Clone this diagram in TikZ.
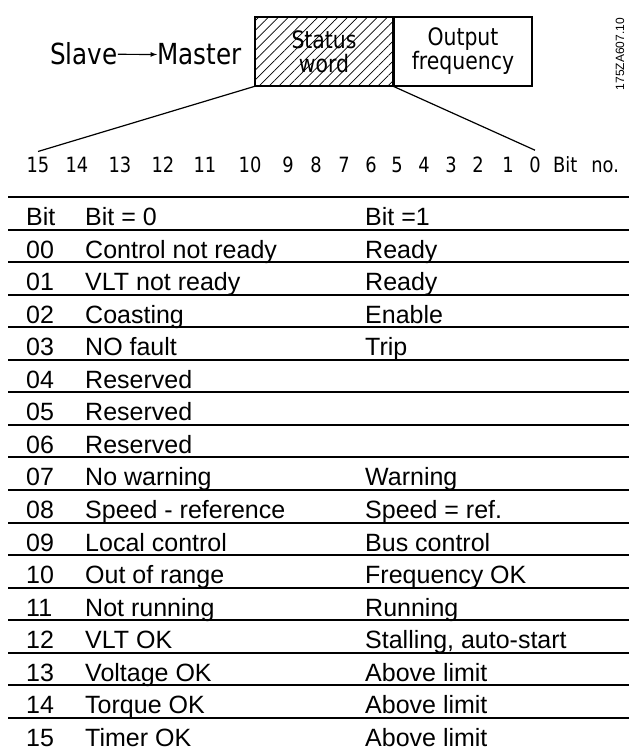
\documentclass[tikz,border=0pt]{standalone}
\usepackage{fontspec}
\setmainfont{Liberation Sans}
\newfontfamily\drawfont[FakeStretch=0.85]{DejaVu Sans}
\usetikzlibrary{arrows,patterns.meta}
\tikzstyle{field} = [draw, line width=1.2pt, minimum width=138pt, minimum height=69pt, inner sep=0pt, align=center, font=\drawfont\fontsize{24}{24}\selectfont]
\tikzstyle{word} = [anchor=base west, inner sep=0pt, font=\drawfont\fontsize{29}{32}\selectfont]
\tikzstyle{bitno} = [anchor=base, inner sep=0pt, font=\drawfont\fontsize{21}{24}\selectfont]
\tikzstyle{cell} = [anchor=base west, inner sep=0pt, font=\fontsize{25}{30}\selectfont]
\tikzstyle{link} = [draw, line width=1.2pt]
\tikzstyle{rule} = [draw, line width=2pt]

\begin{document}
\begin{tikzpicture}[x=1pt, y=-1pt]
    \useasboundingbox (0,0) rectangle (629,751);
    % Draw the frame.
    \node [field, pattern={Lines[angle=45, distance=7pt, line width=0.7pt]}] (status) at (324, 51.5) {Status\\word};
    \node [field, anchor=west] (output) at (status.east) {Output\\frequency};
    \node [rotate=90, inner sep=0pt, font=\fontsize{12}{14}\selectfont] (code) at (620, 54) {175ZA607.10};
    % Slave -> Master.
    \node [word] (slave) at (50, 65) {Slave};
    \node [word] (master) at (157, 65) {Master};
    \path [link, -latex] (slave) -- (master);
    % Bit numbers.
    \foreach \x/\n in {38/15, 77/14, 120/13, 163/12, 205/11, 250/10, 288/9, 316/8,
                       344/7, 371/6, 397/5, 424/4, 451/3, 478/2, 508/1, 535/0}
        \node [bitno] (b\n) at (\x, 173) {\n};
    \node [bitno, anchor=base west] (bitno) at (553, 173) {Bit\hspace{14pt}no.};
    \path [link] (status.south west) -- ([yshift=6pt]b15.north);
    \path [link] (status.south east) -- ([yshift=7pt]b0.north);
    % Draw the table.
    \path [rule] (8, 197) -- (629, 197);
    \foreach \bit/\off/\on [count=\k] in {Bit/{Bit = 0}/{Bit =1},
            00/Control not ready/Ready, 01/VLT not ready/Ready, 02/Coasting/Enable,
            03/NO fault/Trip, 04/Reserved/{}, 05/Reserved/{}, 06/Reserved/{},
            07/No warning/Warning, 08/Speed - reference/{Speed = ref.},
            09/Local control/Bus control, 10/Out of range/Frequency OK,
            11/Not running/Running, 12/VLT OK/{Stalling, auto-start},
            13/Voltage OK/Above limit, 14/Torque OK/Above limit, 15/Timer OK/Above limit} {
        \node [cell] (bit\k) at (26, 193 + 32.55*\k) {\bit};
        \node [cell] (off\k) at (85, 193 + 32.55*\k) {\off};
        \node [cell] (on\k) at (365, 193 + 32.55*\k) {\on};
        \ifnum\k<17 \path [rule] (8, 197 + 32.55*\k) -- (629, 197 + 32.55*\k); \fi
    }
\end{tikzpicture}
\end{document}
